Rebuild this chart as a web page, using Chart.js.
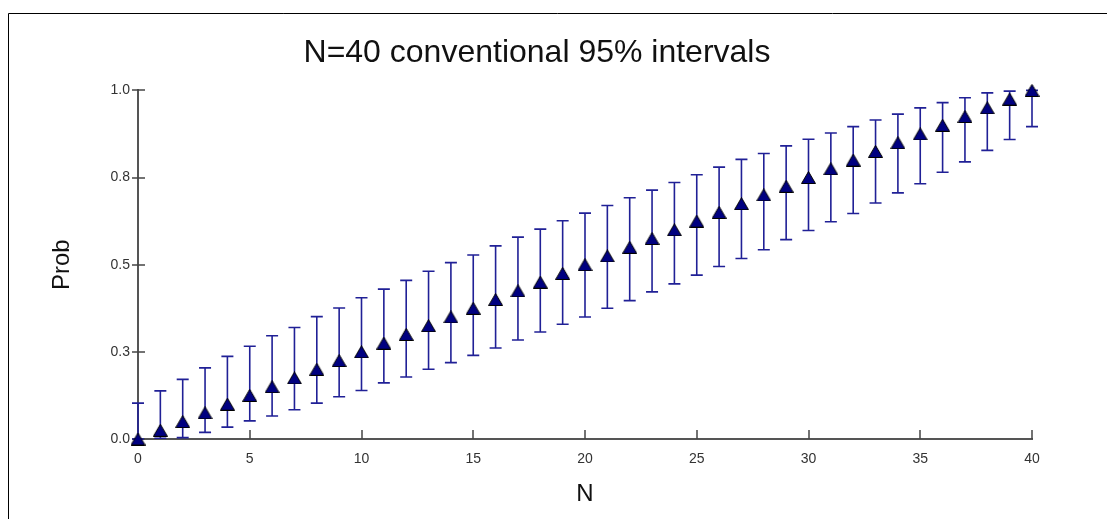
<!DOCTYPE html>
<html><head><meta charset="utf-8">
<script src="https://cdn.jsdelivr.net/npm/chart.js@4/dist/chart.umd.min.js"></script>
<style>html,body{margin:0;padding:0;background:#fff;overflow:hidden}</style>
</head><body>
<canvas id="c" width="1107" height="519"></canvas>
<script>
// ---- data ----
const counts = [0,1,2,3,4,5,6,7,8,9,10,11,12,13,14,15,16,17,18,19,20,21,22,23,24,25,26,27,28,29,30,31,32,33,34,35,36,37,38,39,40];
const probs = [0,0.025,0.05,0.075,0.1,0.125,0.15,0.175,0.2,0.225,0.25,0.275,0.3,0.325,0.35,0.375,0.4,0.425,0.45,0.475,0.5,0.525,0.55,0.575,0.6,0.625,0.65,0.675,0.7,0.725,0.75,0.775,0.8,0.825,0.85,0.875,0.9,0.925,0.95,0.975,1.0];
const lower = [0,0.002,0.004,0.019,0.034,0.052,0.066,0.084,0.103,0.121,0.139,0.161,0.178,0.200,0.219,0.240,0.261,0.284,0.307,0.329,0.350,0.375,0.397,0.422,0.445,0.470,0.495,0.518,0.543,0.572,0.598,0.623,0.647,0.677,0.706,0.732,0.765,0.795,0.828,0.859,0.896];
const upper = [0.103,0.138,0.171,0.204,0.237,0.266,0.296,0.320,0.351,0.376,0.405,0.430,0.455,0.481,0.506,0.528,0.554,0.579,0.602,0.626,0.648,0.670,0.692,0.714,0.736,0.758,0.780,0.802,0.819,0.841,0.860,0.878,0.896,0.915,0.932,0.950,0.965,0.979,0.993,0.998,1.0];
const xTickValues = [0,5,10,15,20,25,30,35,40];
const xTickLabels = ['0','5','10','15','20','25','30','35','40'];
const yTickValues = [0,0.25,0.5,0.75,1];
const yTickLabels = ['0.0','0.3','0.5','0.8','1.0'];
const chartTitle = 'N=40 conventional 95% intervals';
const xTitle = 'N';
const yTitle = 'Prob';

const FONT = "'Liberation Sans', Arial, sans-serif";

// triangle marker image
const tri = document.createElement('canvas');
tri.width = 15; tri.height = 13;
(function(){
  const t = tri.getContext('2d');
  t.beginPath();
  t.moveTo(7.5, 0.5); t.lineTo(14.5, 12.5); t.lineTo(0.5, 12.5); t.closePath();
  t.fillStyle = '#000080'; t.fill();
  t.strokeStyle = '#000'; t.lineWidth = 1; t.stroke();
})();

const framePlugin = {
  id: 'frame',
  beforeDraw(chart) {
    const ctx = chart.ctx;
    ctx.save();
    ctx.strokeStyle = '#000'; ctx.lineWidth = 1;
    ctx.beginPath();
    ctx.moveTo(8.5, 519); ctx.lineTo(8.5, 13.5); ctx.lineTo(1107, 13.5);
    ctx.stroke();
    ctx.restore();
  }
};

const marksPlugin = {
  id: 'marks',
  beforeDatasetsDraw(chart) {
    const ctx = chart.ctx, xs = chart.scales.x, ys = chart.scales.y;
    ctx.save();
    // tick marks
    ctx.strokeStyle = '#444'; ctx.lineWidth = 1.5;
    const ax = ys.right, ay = xs.top;
    yTickValues.forEach(v => {
      const y = Math.round(ys.getPixelForValue(v));
      ctx.beginPath(); ctx.moveTo(ax - 6, y); ctx.lineTo(ax + 7, y); ctx.stroke();
    });
    xTickValues.forEach(v => {
      const x = Math.round(xs.getPixelForValue(v));
      ctx.beginPath(); ctx.moveTo(x, ay); ctx.lineTo(x, ay - 9); ctx.stroke();
    });
    // error bars
    ctx.strokeStyle = 'rgb(32,32,150)'; ctx.lineWidth = 1.6;
    counts.forEach((k, i) => {
      const x = xs.getPixelForValue(k);
      const yl = ys.getPixelForValue(lower[i]);
      const yu = ys.getPixelForValue(upper[i]);
      ctx.beginPath();
      ctx.moveTo(x, yl); ctx.lineTo(x, yu);
      ctx.moveTo(x - 6, yl); ctx.lineTo(x + 6, yl);
      ctx.moveTo(x - 6, yu); ctx.lineTo(x + 6, yu);
      ctx.stroke();
    });
    ctx.restore();
  }
};

new Chart(document.getElementById('c'), {
  type: 'scatter',
  data: {
    datasets: [{
      label: 'Prob',
      data: counts.map((k, i) => ({ x: k, y: probs[i] })),
      pointStyle: tri,
      pointRadius: 7,
      showLine: false,
      clip: false
    }]
  },
  options: {
    responsive: false,
    animation: false,
    events: [],
    layout: { padding: { left: 8, right: 41, top: 13, bottom: 0 } },
    plugins: {
      legend: { display: false },
      tooltip: { enabled: false },
      title: {
        display: true, text: chartTitle, color: '#111',
        font: { family: FONT, size: 32, weight: 'normal' },
        padding: { top: 21, bottom: 18 }
      }
    },
    scales: {
      x: {
        type: 'linear', min: 0, max: 40,
        afterBuildTicks: s => { s.ticks = xTickValues.map(v => ({ value: v })); },
        ticks: {
          callback: v => xTickLabels[xTickValues.indexOf(v)],
          color: '#333', font: { family: FONT, size: 14 }, padding: 4,
          maxRotation: 0, autoSkip: false
        },
        grid: { display: false },
        border: { display: true, color: '#555', width: 2 },
        title: { display: true, text: xTitle, color: '#111', font: { family: FONT, size: 24 }, padding: { top: 0, bottom: 10 } },
        afterFit: s => { s.height = 80; }
      },
      y: {
        type: 'linear', min: 0, max: 1, position: 'left',
        afterBuildTicks: s => { s.ticks = yTickValues.map(v => ({ value: v })); },
        ticks: {
          callback: v => yTickLabels[yTickValues.indexOf(v)],
          color: '#333', font: { family: FONT, size: 14 }, padding: 0
        },
        grid: { display: false },
        border: { display: true, color: '#555', width: 2 },
        title: { display: true, text: yTitle, color: '#111', font: { family: FONT, size: 24 }, padding: { top: 40, bottom: 0 } },
        afterFit: s => { s.width = 130; }
      },
      y2: {
        type: 'linear', position: 'right', display: true,
        grid: { display: false }, border: { display: false }, ticks: { display: false },
        afterFit: s => { s.width = 34; }
      }
    }
  },
  plugins: [framePlugin, marksPlugin]
});
</script>
</body></html>
